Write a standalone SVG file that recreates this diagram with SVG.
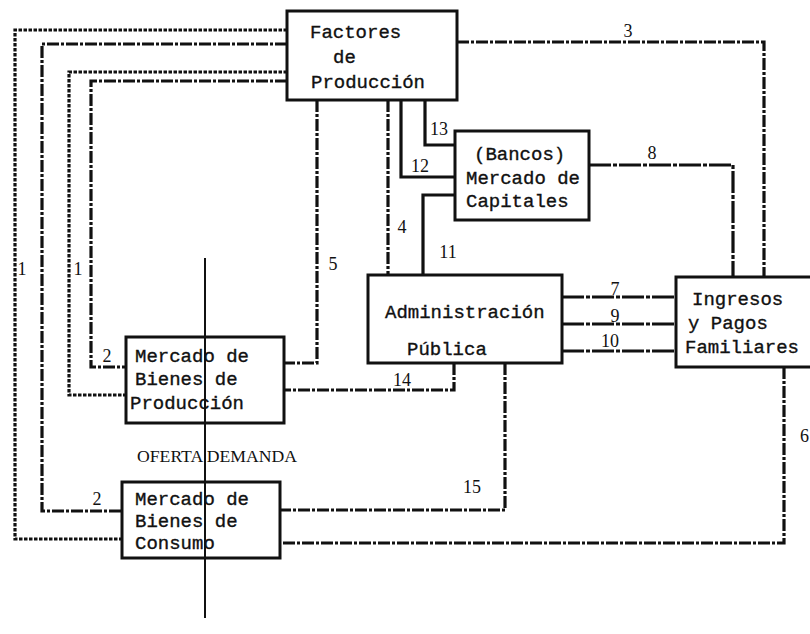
<svg xmlns="http://www.w3.org/2000/svg" width="810" height="634" viewBox="0 0 810 634">
<style>
.box{fill:#fff;stroke:#111;stroke-width:3}
.t{font-family:"Liberation Mono","Courier New",monospace;font-size:19px;fill:#111;stroke:#111;stroke-width:0.35}
.n{font-family:"Liberation Serif","Times New Roman",serif;font-size:18px;fill:#111}
.c{fill:none;stroke:#111;stroke-width:3.2;stroke-linejoin:miter}
.dot{stroke-dasharray:3.5 1.5}
.dd{stroke-dasharray:12 2 3 2}
.ds{stroke-dasharray:22 2 4 2}
</style>
<rect width="810" height="634" fill="#fff"/>
<g id="connectors">
<polyline class="c dot" points="287,30 15,30 15,539 122,539"/>
<polyline class="c dd" points="287,44 42,44 42,511 122,511"/>
<polyline class="c dot" points="287,72 69,72 69,395 126,395"/>
<polyline class="c dd" points="287,81 91,81 91,367 126,367"/>
<polyline class="c dd" points="457,42 764,42 764,277"/>
<polyline class="c ds" points="589,165 733,165 733,277"/>
<polyline class="c dd" points="317,100 317,363 284,363"/>
<polyline class="c dd" points="388,100 388,275"/>
<polyline class="c" points="401,100 401,177 455,177"/>
<polyline class="c" points="425,100 425,145 455,145"/>
<polyline class="c" points="423,275 423,195 455,195"/>
<line class="c ds" x1="562" y1="297" x2="677" y2="297"/>
<line class="c ds" x1="562" y1="324" x2="677" y2="324"/>
<line class="c ds" x1="562" y1="351" x2="677" y2="351"/>
<polyline class="c dd" points="454,363 454,390 283,390"/>
<polyline class="c dd" points="505,363 505,510 280,510"/>
<polyline class="c dd" points="784,367 784,543 280,543"/>
<line x1="205" y1="258" x2="205" y2="618" stroke="#111" stroke-width="2"/>
<text class="n" x="22" y="275" text-anchor="middle">1</text>
<text class="n" x="78" y="275" text-anchor="middle">1</text>
<text class="n" x="107" y="362" text-anchor="middle">2</text>
<text class="n" x="97" y="505" text-anchor="middle">2</text>
<text class="n" x="628" y="37" text-anchor="middle">3</text>
<text class="n" x="402" y="233" text-anchor="middle">4</text>
<text class="n" x="333" y="270" text-anchor="middle">5</text>
<text class="n" x="800" y="442">6</text>
<text class="n" x="615" y="295" text-anchor="middle">7</text>
<text class="n" x="652" y="159" text-anchor="middle">8</text>
<text class="n" x="615" y="322" text-anchor="middle">9</text>
<text class="n" x="610" y="347" text-anchor="middle">10</text>
<text class="n" x="448" y="258" text-anchor="middle">11</text>
<text class="n" x="420" y="172" text-anchor="middle">12</text>
<text class="n" x="439" y="135" text-anchor="middle">13</text>
<text class="n" x="402" y="386" text-anchor="middle">14</text>
<text class="n" x="472" y="493" text-anchor="middle">15</text>
<text x="137" y="462" font-family="Liberation Serif,Times New Roman,serif" font-size="17" fill="#111" textLength="160" lengthAdjust="spacingAndGlyphs">OFERTA DEMANDA</text>
</g>
<g id="factores">
<rect class="box" x="287" y="11" width="170" height="89"/>
<text class="t" x="310" y="38">Factores</text>
<text class="t" x="333" y="63">de</text>
<text class="t" x="311" y="88">Producción</text>
</g>
<g id="bancos">
<rect class="box" x="455" y="131" width="134" height="89"/>
<text class="t" x="474" y="160">(Bancos)</text>
<text class="t" x="466" y="184">Mercado de</text>
<text class="t" x="466" y="207">Capitales</text>
</g>
<g id="administracion">
<rect class="box" x="368" y="275" width="194" height="88"/>
<text class="t" x="385" y="318">Administración</text>
<text class="t" x="407" y="355">Pública</text>
</g>
<g id="ingresos">
<rect class="box" x="676" y="277" width="140" height="90"/>
<text class="t" x="692" y="305">Ingresos</text>
<text class="t" x="688" y="329">y Pagos</text>
<text class="t" x="685" y="353">Familiares</text>
</g>
<g id="bienes-produccion">
<rect class="box" x="126" y="337" width="158" height="86"/>
<text class="t" x="135" y="362">Mercado de</text>
<text class="t" x="135" y="385">Bienes de</text>
<text class="t" x="130" y="409">Producción</text>
</g>
<g id="bienes-consumo">
<rect class="box" x="122" y="482" width="158" height="76"/>
<text class="t" x="135" y="505">Mercado de</text>
<text class="t" x="135" y="527">Bienes de</text>
<text class="t" x="135" y="549">Consumo</text>
</g>
<line x1="205" y1="337" x2="205" y2="558" stroke="#111" stroke-width="2"/>
</svg>
